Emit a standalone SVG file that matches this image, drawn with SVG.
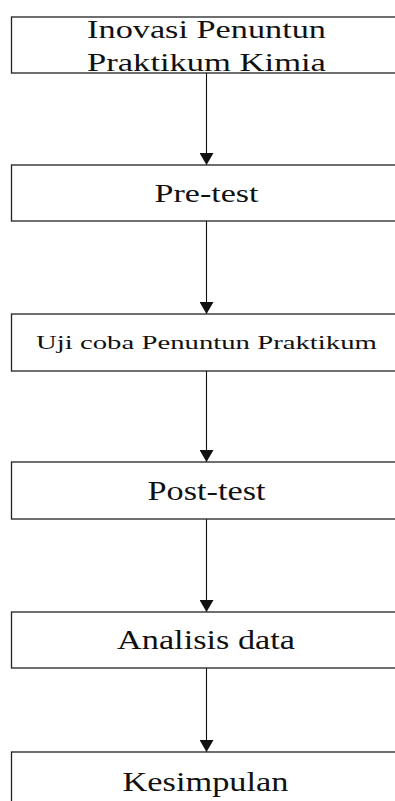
<svg xmlns="http://www.w3.org/2000/svg" width="395" height="801" viewBox="0 0 395 801">
<style>
.box{fill:#fff;stroke:#222;stroke-width:1.3}
.t{font-family:"Liberation Serif","Times New Roman",serif;fill:#111;text-anchor:middle}
.c{stroke:#111;stroke-width:1.1;fill:none;marker-end:url(#ah)}
</style>
<defs>
<marker id="ah" markerUnits="userSpaceOnUse" markerWidth="12" markerHeight="14" refX="12" refY="7" orient="auto" viewBox="0 0 12 14">
<path d="M0,0 L12,7 L0,14 Z" fill="#111"/>
</marker>
</defs>
<rect width="395" height="801" fill="#fff"/>
<g id="connectors">
<line class="c" x1="206.5" y1="73" x2="206.5" y2="165"/>
<line class="c" x1="206.5" y1="221" x2="206.5" y2="314"/>
<line class="c" x1="206.5" y1="371" x2="206.5" y2="462"/>
<line class="c" x1="206.5" y1="519" x2="206.5" y2="612"/>
<line class="c" x1="206.5" y1="668" x2="206.5" y2="752"/>
</g>
<g id="n1">
<rect class="box" x="11.5" y="17" width="400" height="56"/>
<text class="t" transform="translate(206.5 38) scale(1.318 1)" font-size="26">Inovasi Penuntun</text>
<text class="t" transform="translate(206.5 71) scale(1.329 1)" font-size="26">Praktikum Kimia</text>
</g>
<g id="n2">
<rect class="box" x="11.5" y="165" width="400" height="56"/>
<text class="t" transform="translate(206.5 202) scale(1.361 1)" font-size="25">Pre-test</text>
</g>
<g id="n3">
<rect class="box" x="11.5" y="314" width="400" height="57"/>
<text class="t" transform="translate(206.5 348.5) scale(1.513 1)" font-size="19">Uji coba Penuntun Praktikum</text>
</g>
<g id="n4">
<rect class="box" x="11.5" y="462" width="400" height="57"/>
<text class="t" transform="translate(206.5 499.5) scale(1.269 1)" font-size="27">Post-test</text>
</g>
<g id="n5">
<rect class="box" x="11.5" y="612" width="400" height="56"/>
<text class="t" transform="translate(206 648.5) scale(1.224 1)" font-size="28">Analisis data</text>
</g>
<g id="n6">
<rect class="box" x="11.5" y="752" width="400" height="60"/>
<text class="t" transform="translate(205.5 791) scale(1.227 1)" font-size="28">Kesimpulan</text>
</g>
</svg>
